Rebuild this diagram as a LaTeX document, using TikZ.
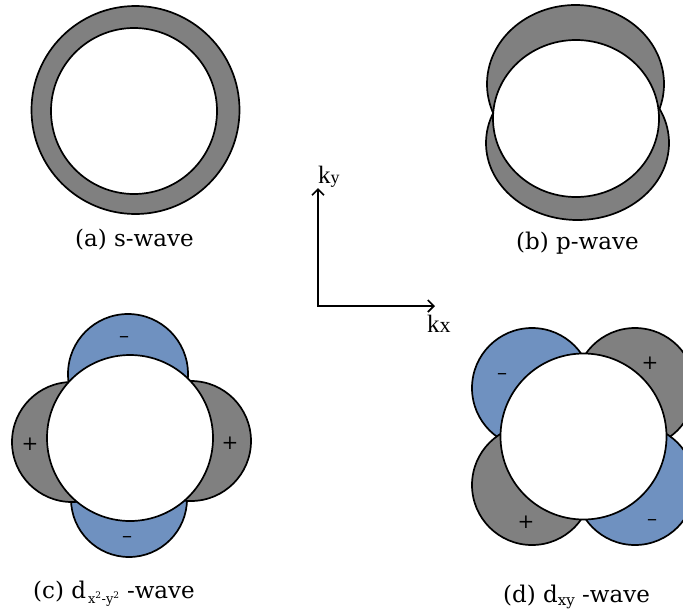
\documentclass[tikz,border=0pt]{standalone}
\usepackage{fontspec}
\setmainfont{DejaVu Serif}
\newfontfamily\kfont{Liberation Serif}
\usetikzlibrary{arrows.meta}
\definecolor{lobegray}{RGB}{128,128,128}
\definecolor{lobeblue}{RGB}{111,145,192}
\tikzset{
  graylobe/.style={fill=lobegray, draw=black, line width=1.7pt},
  bluelobe/.style={fill=lobeblue, draw=black, line width=1.7pt},
  core/.style={fill=white, draw=black, line width=1.7pt},
  caption/.style={anchor=base west, inner sep=0pt, font=\fontsize{23}{27}\selectfont},
  sign/.style={inner sep=0pt, font=\fontsize{20}{22}\selectfont},
  klabel/.style={anchor=base west, inner sep=0pt, font=\kfont\fontsize{25}{28}\selectfont},
  axis/.style={line width=1.7pt, line join=miter, {Straight Barb[length=6pt,width=12pt,line width=1.7pt]}-{Straight Barb[length=6pt,width=12pt,line width=1.7pt]}}
}
\begin{document}
\begin{tikzpicture}[x=1pt,y=-1pt]
\useasboundingbox (0,0) rectangle (683,614);
\clip (0,0) rectangle (683,614);
% (a) s-wave
\draw[graylobe] (135.5,110) circle[radius=104pt];
\draw[core] (134,111) circle[radius=83pt];
\node[caption] (capa) at (75,246) {(a) s-wave};
% (b) p-wave
\draw[graylobe] (575.5,84) ellipse[x radius=88.5pt, y radius=79pt];
\draw[graylobe] (577.5,143) ellipse[x radius=91.5pt, y radius=77pt];
\draw[core] (576,118.5) ellipse[x radius=83pt, y radius=78.5pt];
\node[caption] (capb) at (516,249) {(b) p-wave};
% axes
\coordinate (O) at (318,306);
\coordinate (Ytip) at (318,188);
\coordinate (Xtip) at (435,306);
\draw[axis] (Ytip) -- (O) -- (Xtip);
\node[klabel] (ky) at (318,183) {k{\fontsize{18}{20}\selectfont y}};
\node[klabel] (kx) at (427,332) {k{\fontsize{22}{24}\selectfont x}};
% (c) d_{x^2-y^2}
\draw[bluelobe] (128,374) circle[radius=60pt];
\draw[bluelobe] (129,499) circle[radius=58pt];
\draw[graylobe] (72,442) circle[radius=60pt];
\draw[graylobe] (191,441) circle[radius=60pt];
\draw[core] (130,438) circle[radius=83pt];
\node[sign] (c1) at (30,444) {+};
\node[sign] (c2) at (230,443) {+};
\node[sign] (c3) at (124,340) {–};
\node[sign] (c4) at (127,540) {–};
\node[caption] (capc) at (33,598) {(c) d\hspace{2pt}\raisebox{-5pt}{\fontsize{13}{14}\selectfont x\textsuperscript{2}-y\textsuperscript{2}} -wave};
% (d) d_xy
\draw[bluelobe] (532,388) circle[radius=60pt];
\draw[graylobe] (635,388) circle[radius=60pt];
\draw[graylobe] (532,485) circle[radius=60pt];
\draw[bluelobe] (635,485) circle[radius=60pt];
\draw[core] (583.5,436.5) circle[radius=83pt];
\node[sign] (d1) at (650,363) {+};
\node[sign] (d2) at (502,377) {–};
\node[sign] (d3) at (526,522) {+};
\node[sign] (d4) at (652,523) {–};
\node[caption] (capd) at (503,602) {(d) d\raisebox{-3pt}{\fontsize{15}{16}\selectfont xy} -wave};
\end{tikzpicture}
\end{document}
